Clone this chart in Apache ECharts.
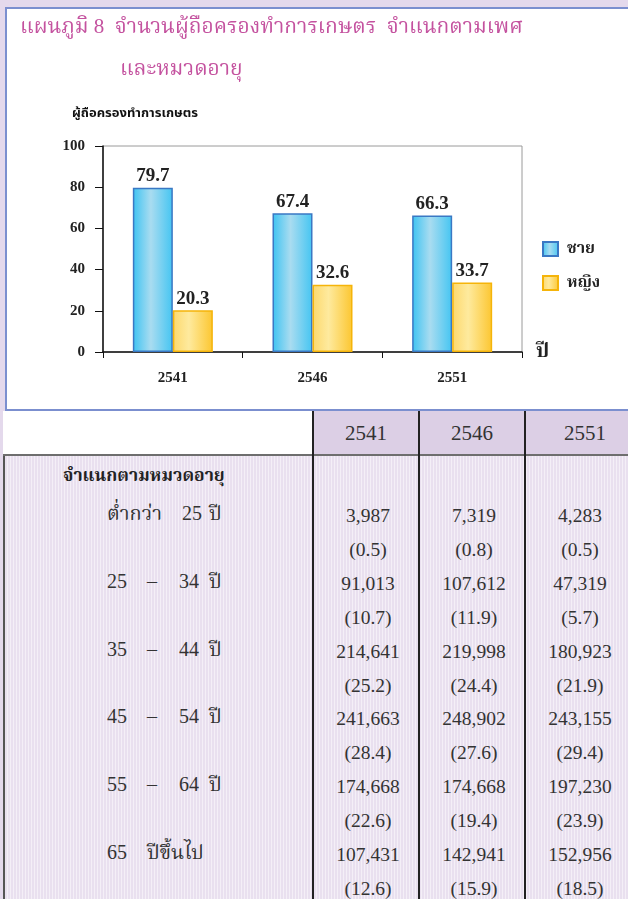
<!DOCTYPE html>
<html>
<head>
<meta charset="utf-8">
<script src="https://cdn.jsdelivr.net/npm/echarts@6/dist/echarts.min.js"></script>
<style>
  html, body { margin: 0; padding: 0; }
  body { width: 628px; height: 899px; overflow: hidden; position: relative; background: #e4d9ec; font-family: "Liberation Serif", "Noto Sans", serif; }
  #box { position: absolute; left: 5px; top: 7px; width: 680px; height: 400px; background: #fff; border: 2px solid #7b8fcf; }
  #chart { position: absolute; left: 0; top: 0; width: 628px; height: 410px; }
  #tbl { position: absolute; left: 3px; top: 411px; width: 640px; height: 500px; }
  #head { position: absolute; left: 0; top: 0; width: 100%; height: 43px; background: #fff; border-bottom: 2px solid #6e6e6e; }
  #bodyArea { position: absolute; left: 0; top: 45px; width: 100%; height: 460px;
     background: repeating-linear-gradient(90deg, #e9e0ef 0px, #e9e0ef 2px, #f4eff7 2px, #f4eff7 3px);
     border-left: 2px solid #555; }
  .vline { position: absolute; top: 0; width: 2px; height: 500px; background: #222; }
  .hcell { position: absolute; top: 0; height: 43px; line-height: 45px; text-align: center; font-size: 21px; color: #333; background: #dccfe5; }
  .val { position: absolute; width: 106px; text-align: center; font-size: 19.5px; color: #333; line-height: 24px; }
  .lab { position: absolute; font-size: 20px; color: #333; line-height: 24px; white-space: pre; }
  .grp { position: absolute; left: 58px; font-size: 17.5px; font-weight: bold; color: #222; line-height: 24px; }
</style>
</head>
<body>
<div id="box"></div>
<div id="chart"></div>
<div id="tbl">
  <div id="head"></div>
  <div id="bodyArea"></div>
</div>
<script>
// ---------- data ----------
const years = ['2541', '2546', '2551'];
const maleShare = [79.7, 67.4, 66.3];
const femaleShare = [20.3, 32.6, 33.7];
const seriesNames = ['ชาย', 'หญิง'];
const yTicks = [0, 20, 40, 60, 80, 100];

const groupTitle = 'จำแนกตามหมวดอายุ';
const ageParts = [
  [['ต่ำกว่า', 0], ['25', 75], ['ปี', 102]],
  [['25', 0], ['–', 40], ['34', 72], ['ปี', 102]],
  [['35', 0], ['–', 40], ['44', 72], ['ปี', 102]],
  [['45', 0], ['–', 40], ['54', 72], ['ปี', 102]],
  [['55', 0], ['–', 40], ['64', 72], ['ปี', 102]],
  [['65', 0], ['ปีขึ้นไป', 40]]
];
const counts2541 = [3987, 91013, 214641, 241663, 174668, 107431];
const counts2546 = [7319, 107612, 219998, 248902, 174668, 142941];
const counts2551 = [4283, 47319, 180923, 243155, 197230, 152956];
const pct2541 = [0.5, 10.7, 25.2, 28.4, 22.6, 12.6];
const pct2546 = [0.8, 11.9, 24.4, 27.6, 19.4, 15.9];
const pct2551 = [0.5, 5.7, 21.9, 29.4, 23.9, 18.5];

// ---------- chart ----------
const thaiSerif = '"Liberation Serif", "Noto Serif Thai", "Noto Sans Thai", serif';
const thaiSans = '"Noto Sans Thai", "Noto Sans", sans-serif';
const serifBold = '"Liberation Serif", "Times New Roman", serif';

const chart = echarts.init(document.getElementById('chart'), null, { renderer: 'canvas' });
chart.setOption({
  backgroundColor: 'transparent',
  animation: false,
  title: [
    { text: 'แผนภูมิ 8  จำนวนผู้ถือครองทำการเกษตร  จำแนกตามเพศ', left: 20, top: 17, padding: 0,
      textStyle: { color: '#c4529f', fontSize: 21, fontWeight: 'normal', fontFamily: thaiSerif } },
    { text: 'และหมวดอายุ', left: 120, top: 59, padding: 0,
      textStyle: { color: '#c4529f', fontSize: 21, fontWeight: 'normal', fontFamily: thaiSerif } }
  ],
  legend: {
    orient: 'vertical', left: 537, top: 236, itemWidth: 15, itemHeight: 14, itemGap: 18, icon: 'rect',
    data: seriesNames,
    textStyle: { fontSize: 16, fontWeight: 'bold', color: '#222', fontFamily: thaiSerif, padding: [0, 0, 0, 4] }
  },
  grid: { left: 103, top: 146, width: 419, height: 206, show: true, borderColor: '#9a9a9a', borderWidth: 1, backgroundColor: 'transparent' },
  xAxis: {
    type: 'category', data: years,
    name: 'ปี', nameLocation: 'end', nameGap: 14,
    nameTextStyle: { fontSize: 20, fontWeight: 'bold', color: '#222', fontFamily: thaiSerif, verticalAlign: 'middle', padding: [0, 0, -6, 0] },
    axisLine: { lineStyle: { color: '#111', width: 1.5 } },
    axisTick: { show: true, length: 6, lineStyle: { color: '#111' } },
    axisLabel: { margin: 19, fontSize: 15, fontWeight: 'bold', color: '#222', fontFamily: serifBold }
  },
  yAxis: {
    type: 'value', min: 0, max: 100, interval: 20,
    name: 'ผู้ถือครองทำการเกษตร', nameLocation: 'end', nameGap: 25,
    nameTextStyle: { fontSize: 13, fontWeight: 'bold', color: '#111', fontFamily: thaiSans, align: 'left', padding: [0, 0, 0, -31] },
    axisLine: { show: true, lineStyle: { color: '#111', width: 1.5 } },
    axisTick: { show: true, length: 8, lineStyle: { color: '#111' } },
    splitLine: { show: false },
    axisLabel: { margin: 18, fontSize: 15, fontWeight: 'bold', color: '#222', fontFamily: serifBold,
      formatter: v => yTicks.includes(v) ? String(v) : '' }
  },
  series: [
    {
      name: seriesNames[0], type: 'bar', data: maleShare, barWidth: 40, barGap: '0%',
      itemStyle: {
        color: new echarts.graphic.LinearGradient(0, 0, 1, 0, [
          { offset: 0, color: '#3cc3f2' }, { offset: 0.45, color: '#a9dcf0' }, { offset: 1, color: '#44c5f2' }
        ]),
        borderColor: '#3a78c4', borderWidth: 1.5
      },
      label: { show: true, position: 'top', distance: 2, fontSize: 19, fontWeight: 'bold', color: '#222', fontFamily: serifBold,
        formatter: p => p.value.toFixed(1) }
    },
    {
      name: seriesNames[1], type: 'bar', data: femaleShare, barWidth: 40,
      itemStyle: {
        color: new echarts.graphic.LinearGradient(0, 0, 1, 0, [
          { offset: 0, color: '#fdd86c' }, { offset: 0.4, color: '#feea9e' }, { offset: 1, color: '#fcc630' }
        ]),
        borderColor: '#f5b40a', borderWidth: 1.5
      },
      label: { show: true, position: 'top', distance: 2, fontSize: 19, fontWeight: 'bold', color: '#222', fontFamily: serifBold,
        formatter: p => p.value.toFixed(1) }
    }
  ]
});

// ---------- table ----------
const fmt = n => n.toLocaleString('en-US');
const colLeft = [310, 416, 522];
const tbl = document.getElementById('tbl');
const head = document.getElementById('head');
const bodyArea = document.getElementById('bodyArea');

years.forEach((y, i) => {
  const c = document.createElement('div');
  c.className = 'hcell';
  c.style.left = colLeft[i] + 'px';
  c.style.width = (i < 2 ? colLeft[i + 1] - colLeft[i] : 120) + 'px';
  c.textContent = y;
  head.appendChild(c);
});
colLeft.forEach(x => {
  const l = document.createElement('div');
  l.className = 'vline';
  l.style.left = (x - 1) + 'px';
  tbl.appendChild(l);
});

const g = document.createElement('div');
g.className = 'grp'; g.style.top = '7px'; g.style.fontFamily = thaiSerif; g.textContent = groupTitle;
bodyArea.appendChild(g);

const rowStep = 33.9, firstRow = 48;
const cols = [[counts2541, pct2541], [counts2546, pct2546], [counts2551, pct2551]];
ageParts.forEach((parts, r) => {
  const topCount = firstRow + r * 2 * rowStep;
  parts.forEach(([t, dx]) => {
    const s = document.createElement('div');
    s.className = 'lab';
    s.style.left = (102 + dx) + 'px';
    s.style.top = (topCount - 3) + 'px';
    s.style.fontFamily = thaiSerif;
    s.textContent = t;
    bodyArea.appendChild(s);
  });
  cols.forEach(([cnt, pct], c) => {
    const a = document.createElement('div');
    a.className = 'val'; a.style.left = colLeft[c] + 'px'; a.style.top = topCount + 'px';
    a.textContent = fmt(cnt[r]);
    bodyArea.appendChild(a);
    const b = document.createElement('div');
    b.className = 'val'; b.style.left = colLeft[c] + 'px'; b.style.top = (topCount + rowStep) + 'px';
    b.textContent = '(' + pct[r].toFixed(1) + ')';
    bodyArea.appendChild(b);
  });
});
</script>
</body>
</html>
